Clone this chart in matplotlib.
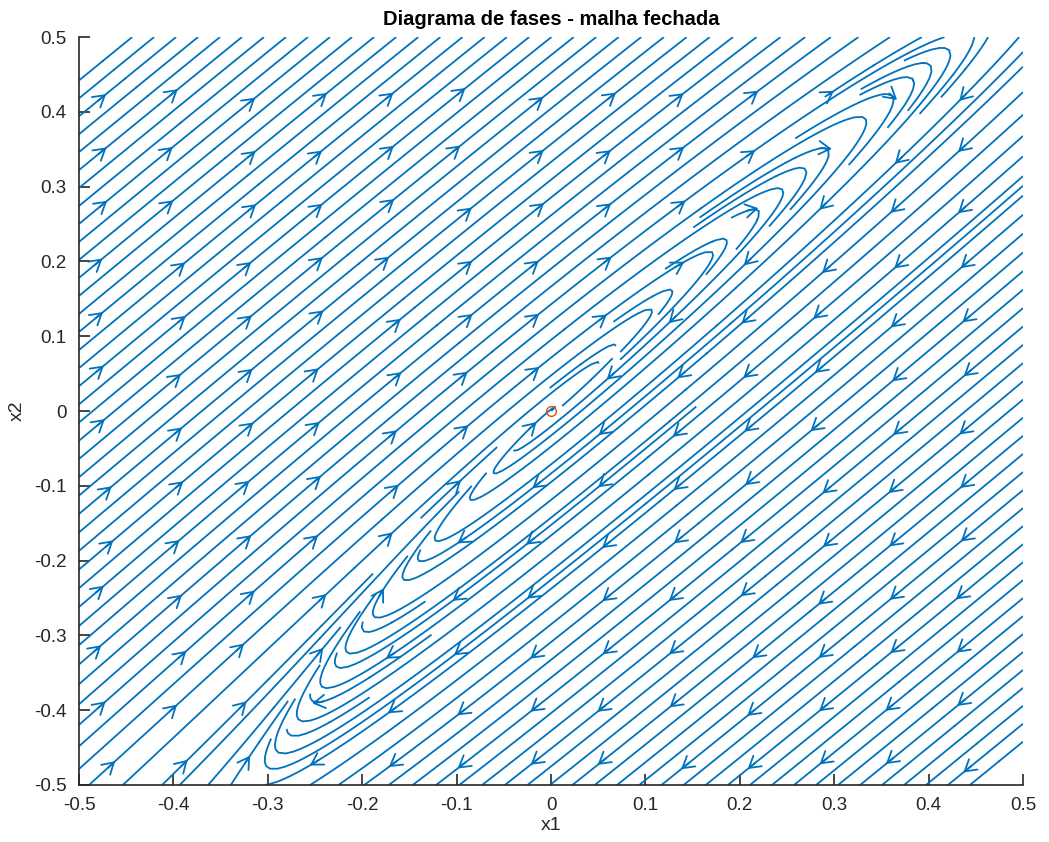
import numpy as np
import matplotlib
matplotlib.use('Agg')
import matplotlib.pyplot as plt

# closed loop field: fast motion along u_dir towards the switching curve
# x1 = c0 + c1*x2 + c2*x2^2, plus a slow clockwise turn across it
u_dir = [1.0, 1.03]
curve_coef = [0.0, 0.75, 0.25]
k_fast = 1.0
k_turn = 0.01
eq_point = [0.0, 0.0]

x1_lim = [-0.5, 0.5]
x2_lim = [-0.5, 0.5]
ticks = [-0.5, -0.4, -0.3, -0.2, -0.1, 0, 0.1, 0.2, 0.3, 0.4, 0.5]
tick_labels = ['-0.5', '-0.4', '-0.3', '-0.2', '-0.1', '0', '0.1', '0.2', '0.3', '0.4', '0.5']

blue = '#0072BD'
orange = '#D95319'
axcol = '#262626'

plt.rcParams['font.family'] = ['Liberation Sans', 'DejaVu Sans']


def dist(a, b):
    return a - (curve_coef[0] + curve_coef[1]*b + curve_coef[2]*b**2)


def field(a, b):
    m = dist(a, b)
    s = a + b
    du = -k_fast*m*u_dir[0] + k_turn*s
    dv = -k_fast*m*u_dir[1] - k_turn*s
    return du, dv


x1 = np.linspace(x1_lim[0], x1_lim[1], 201)
x2 = np.linspace(x2_lim[0], x2_lim[1], 201)
X1, X2 = np.meshgrid(x1, x2)
U, V = field(X1, X2)

fig = plt.figure(figsize=(10.49, 8.42), dpi=100)
ax = fig.add_axes([0.0753, 0.0677, 0.9, 0.8883])

# seeds along the anti-diagonal first, then a few extra ones near the
# switching curve where the lines bunch up
s = np.linspace(-0.495, 0.495, 85)
seeds = np.column_stack([s, -s])
g = np.linspace(-0.49, 0.49, 45)
G1, G2 = np.meshgrid(g, g)
band = np.abs(dist(G1, G2)) < 0.05
seeds = np.vstack([seeds, np.column_stack([G1[band], G2[band]])])

strm = ax.streamplot(X1, X2, U, V, density=4.0, color=blue, linewidth=1.3,
                     arrowstyle='-', start_points=seeds, minlength=0.08,
                     broken_streamlines=True)

# arrow heads on a coarse grid, snapped onto the drawn streamlines
pts = np.concatenate([np.asarray(p) for p in strm.lines.get_segments()])
gx = np.linspace(-0.475, 0.44, 13)
gy = np.linspace(-0.47, 0.42, 13)
for px in gx:
    for py in gy:
        d = np.hypot(pts[:, 0]-px, pts[:, 1]-py)
        k = np.argmin(d)
        if d[k] > 0.02:
            continue
        p = pts[k]
        v = np.array(field(p[0], p[1]))
        n = np.hypot(*v)
        if n == 0:
            continue
        v = v/n
        ax.annotate('', xy=(p[0]+0.008*v[0], p[1]+0.008*v[1]),
                    xytext=(p[0]-0.004*v[0], p[1]-0.004*v[1]),
                    arrowprops=dict(arrowstyle='->,head_length=0.5,head_width=0.3',
                                    mutation_scale=16, color=blue, lw=1.3,
                                    shrinkA=0, shrinkB=0))

ax.plot(eq_point[0], eq_point[1], 'o', mfc='none', mec=orange, ms=7, mew=1)

ax.set_xlim(x1_lim)
ax.set_ylim(x2_lim)
ax.set_xticks(ticks)
ax.set_xticklabels(tick_labels)
ax.set_yticks(ticks)
ax.set_yticklabels(tick_labels)
for sp in ['top', 'right']:
    ax.spines[sp].set_visible(False)
for sp in ['left', 'bottom']:
    ax.spines[sp].set_color(axcol)
    ax.spines[sp].set_linewidth(1.2)
ax.tick_params(direction='in', length=8, width=1.2, colors=axcol, labelsize=13.5)
ax.tick_params(axis='x', pad=9)
ax.tick_params(axis='y', pad=9)
ax.set_xlabel('x1', fontsize=14, color=axcol, labelpad=2)
ax.set_ylabel('x2', fontsize=14, color=axcol, labelpad=6)
ax.set_title('Diagrama de fases - malha fechada', fontsize=14.5, fontweight='bold', pad=9)

fig.savefig('out.png', dpi=100)
